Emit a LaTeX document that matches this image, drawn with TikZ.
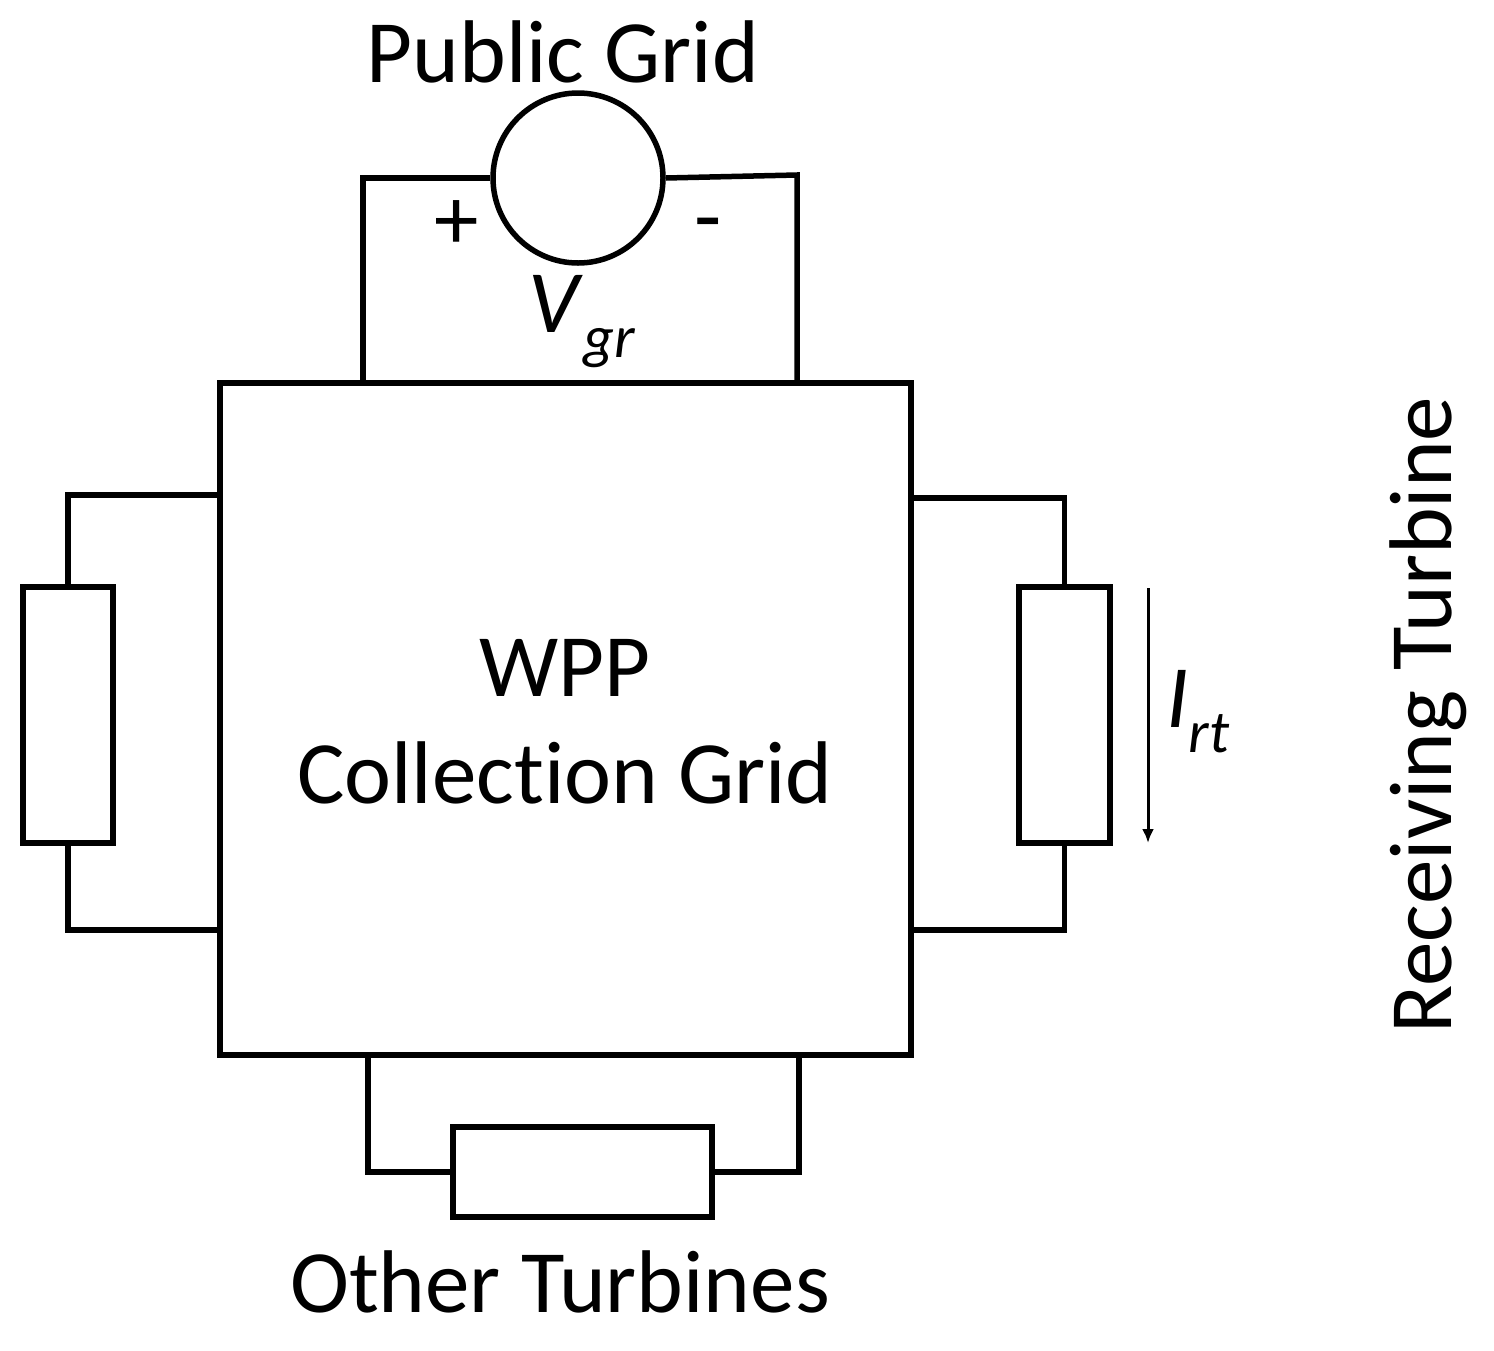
\documentclass[tikz,border=0pt]{standalone}
\usepackage{fontspec}
\usetikzlibrary{arrows.meta}
\setmainfont[Ligatures={NoCommon,NoRare}]{Carlito}
\newcommand{\mysub}[2]{\textit{#1}\raisebox{-0.28em}{\fontsize{60}{60}\selectfont\textit{#2}}}
\begin{document}
\begin{tikzpicture}[x=1pt,y=-1pt,line width=5.5pt,
  big/.style={font=\fontsize{89}{107}\selectfont},
  res/.style={draw,line width=5.5pt,inner sep=0pt}]
\useasboundingbox (0,0) rectangle (1494,1350);
\node[draw,line width=5.5pt,minimum width=691pt,minimum height=672pt] (box) at (565.5,719) {};
\node[big,align=center] (wpp) at (565,722) {WPP\\Collection Grid};
\node[draw,circle,minimum size=170pt,inner sep=0pt] (src) at (578,178) {};
\node[big] (pg) at (563,52) {Public Grid};
\node[big] (plus) at (457,225) {+};
\node[big] (minus) at (708,232) {-};
\node[big] (vgr) at (582,322) {\mysub{V}{gr}};
\coordinate (tl) at (363,383); \coordinate (tr) at (797,383);
\draw (src.west) -| (tl);
\draw (src.east) -- (797,175) -- (tr);
% left resistor
\node[res,minimum width=90pt,minimum height=256pt] (rl) at (68,715) {};
\draw (220,495) -| (rl.north);
\draw (rl.south) |- (220,930);
% right resistor
\node[res,minimum width=91pt,minimum height=256pt] (rr) at (1064.5,715) {};
\draw (911,498) -| (rr.north);
\draw (rr.south) |- (911,930);
\coordinate (a1) at (1148,588); \coordinate (a2) at (1148,843);
\draw[line width=3pt,-{Latex[length=14pt,width=12pt]}] (a1) -- (a2);
\node[big] (irt) at (1198,712) {\mysub{I}{rt}};
\node[big,rotate=90] (rt) at (1428,715) {Receiving Turbine};
% bottom resistor
\node[res,minimum width=259pt,minimum height=90pt] (rb) at (582.5,1172) {};
\draw (368,1055) |- (rb.west);
\draw (rb.east) -| (799,1055);
\node[big] (ot) at (560,1282) {Other Turbines};
\end{tikzpicture}
\end{document}
